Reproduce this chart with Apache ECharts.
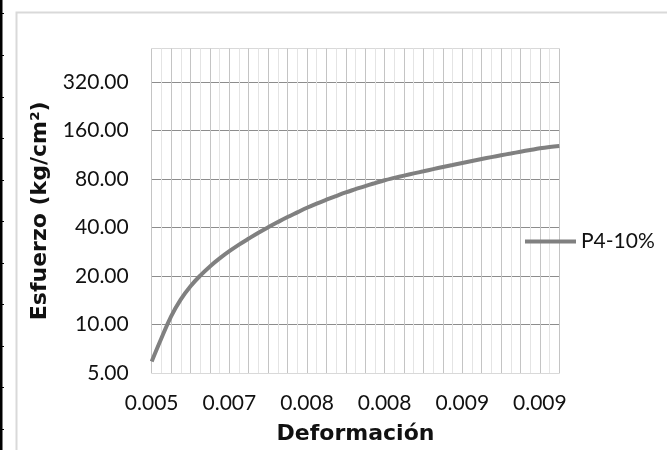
<!DOCTYPE html>
<html>
<head>
<meta charset="utf-8">
<script src="https://cdn.jsdelivr.net/npm/echarts@6/dist/echarts.min.js"></script>
<style>
  html, body { margin: 0; padding: 0; background: #fff; }
  #chart { width: 667px; height: 450px; }
</style>
</head>
<body>
<div id="chart"></div>
<script>
// Strain readings (category axis, one per recorded point)
const deformacion = [
  0.00500, 0.00525, 0.00548, 0.00570, 0.00591, 0.00612, 0.00632, 0.00651,
  0.00669, 0.00686, 0.00701, 0.00715, 0.00728, 0.00740, 0.00751, 0.00761,
  0.00771, 0.00780, 0.00789, 0.00797, 0.00805, 0.00812, 0.00819, 0.00826,
  0.00833, 0.00840, 0.00846, 0.00852, 0.00858, 0.00864, 0.00870, 0.00876,
  0.00882, 0.00887, 0.00892, 0.00897, 0.00902, 0.00907, 0.00912, 0.00917,
  0.00922, 0.00926, 0.00930
];

// Stress in kg/cm², sample P4-10%
const esfuerzoP4 = [
  5.90, 8.22, 11.24, 14.32, 17.27, 20.11, 22.94, 25.72,
  28.50, 31.30, 34.13, 37.1, 40.1, 43.2, 46.4, 49.6,
  53.0, 56.3, 59.5, 62.7, 66.0, 69.1, 72.3, 75.4,
  78.5, 81.2, 83.9, 86.6, 89.3, 92.1, 94.9, 97.7,
  100.6, 103.5, 106.4, 109.3, 112.2, 115.1, 118.1, 121.0,
  123.9, 126.2, 128.0
];

const serieNombre = 'P4-10%';
const ejeYMin = 5;
const ejeYMax = 516;

const chart = echarts.init(document.getElementById('chart'), null, { renderer: 'canvas' });

// small marks on the dark left edge strip
const marcas = [];
[13, 55, 97, 138, 180, 221, 263, 304, 346, 387, 429].forEach(function (y) {
  marcas.push({ type: 'rect', left: 2, top: y, shape: { width: 2, height: 1 }, style: { fill: '#000' }, silent: true });
});

const labelFont = { fontFamily: 'Lato', fontSize: 21, color: '#111' };

chart.setOption({
  animation: false,
  backgroundColor: '#fff',
  graphic: [
    { type: 'rect', left: 14, top: 10, shape: { width: 670, height: 460 }, style: { fill: 'none', stroke: '#d9d9d9', lineWidth: 2 }, silent: true, z: -1 },
    { type: 'rect', left: 0, top: 0, shape: { width: 2.5, height: 450 }, style: { fill: '#000' }, silent: true }
  ].concat(marcas),
  grid: {
    left: 151.7,
    right: 107.7,
    top: 48.5,
    bottom: 75,
    containLabel: false
  },
  legend: {
    data: [serieNombre],
    left: 525,
    top: 231,
    padding: 0,
    icon: 'rect',
    itemWidth: 51,
    itemHeight: 4,
    itemGap: 6,
    textStyle: Object.assign({}, labelFont, { padding: [0, 0, 0, 0] })
  },
  xAxis: {
    type: 'category',
    data: deformacion,
    boundaryGap: false,
    name: 'Deformación',
    nameLocation: 'middle',
    nameGap: 50,
    nameTextStyle: { fontFamily: 'DejaVu Sans', fontWeight: 'bold', fontSize: 22, color: '#111' },
    axisLine: { show: true, lineStyle: { color: '#d9d9d9', width: 1 } },
    axisTick: { show: false },
    axisLabel: Object.assign({
      interval: 7,
      margin: 20,
      formatter: function (v) { return Number(v).toFixed(3); }
    }, labelFont),
    splitLine: {
      show: true,
      interval: 0,
      lineStyle: { color: ['#c4c4c4', '#e4e4e4'], width: 1 }
    }
  },
  yAxis: {
    type: 'log',
    logBase: 2,
    min: ejeYMin,
    max: ejeYMax,
    interval: 1,
    name: 'Esfuerzo (kg/cm²)',
    nameLocation: 'middle',
    nameGap: 100,
    nameTextStyle: { fontFamily: 'DejaVu Sans', fontWeight: 'bold', fontSize: 22, color: '#111' },
    axisLine: { show: false },
    axisTick: { show: false },
    axisLabel: Object.assign({
      margin: 23,
      showMaxLabel: false,
      // tick values come back from log space slightly off; show them at 2 significant digits
      formatter: function (v) { return Number(Number(v).toPrecision(2)).toFixed(2); }
    }, labelFont),
    splitLine: {
      show: true,
      lineStyle: { color: ['#d9d9d9', '#8c8c8c', '#8c8c8c', '#8c8c8c', '#8c8c8c', '#8c8c8c', '#8c8c8c', '#d9d9d9'], width: 1 }
    }
  },
  series: [{
    name: serieNombre,
    type: 'line',
    data: esfuerzoP4,
    smooth: 0.4,
    symbol: 'none',
    lineStyle: { color: '#808080', width: 4 },
    itemStyle: { color: '#808080' }
  }]
});
</script>
</body>
</html>
